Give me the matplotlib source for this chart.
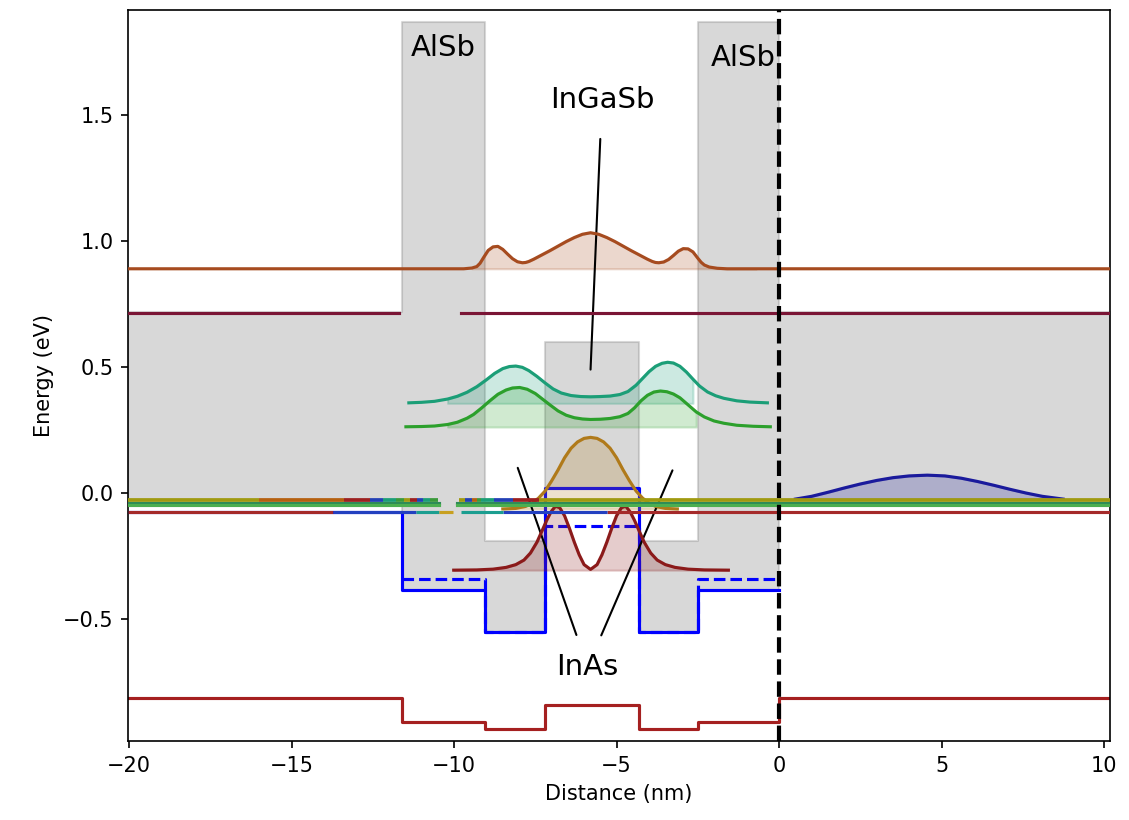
import matplotlib
matplotlib.use('Agg')
import matplotlib.pyplot as plt
import numpy as np

# Layer boundaries (nm): GaSb | AlSb | InAs | InGaSb | InAs | AlSb | GaSb
layer_edges = [-20.03, -11.6, -9.05, -7.2, -4.3, -2.5, 0.0, 10.18]
layer_names = ['GaSb', 'AlSb', 'InAs', 'InGaSb', 'InAs', 'AlSb', 'GaSb']

# Band edges per layer (eV)
cb_edge = [0.72, 1.87, -0.19, 0.60, -0.19, 1.87, 0.72]
vb_edge = [-0.03, -0.385, -0.55, 0.02, -0.55, -0.385, -0.03]
hh_band = [-0.075, -0.385, -0.55, 0.02, -0.55, -0.385]   # left GaSb .. AlSb
lh_band = [-0.34, -0.55, -0.13, -0.55, -0.34]            # AlSb .. AlSb
so_band = [-0.815, -0.908, -0.935, -0.84, -0.935, -0.908, -0.815]

# Electron-like states (energy + |psi|^2)
brown_x = [-20.03, -9.7, -9.45, -9.3, -9.2, -9.1, -8.95, -8.8, -8.65, -8.5, -8.35, -8.2,
           -8.05, -7.9, -7.8, -7.7, -7.55, -7.3, -7.05, -6.8, -6.55, -6.3, -6.05, -5.8,
           -5.55, -5.3, -5.05, -4.8, -4.55, -4.3, -4.05, -3.9, -3.8, -3.7, -3.55, -3.4,
           -3.25, -3.1, -2.95, -2.8, -2.65, -2.5, -2.4, -2.3, -2.15, -1.9, -1.6, -0.7, 10.18]
brown_e = [0.89, 0.890, 0.893, 0.899, 0.912, 0.933, 0.963, 0.977, 0.979, 0.967, 0.948, 0.930,
           0.918, 0.914, 0.915, 0.919, 0.928, 0.945, 0.962, 0.980, 0.998, 1.014, 1.027, 1.033,
           1.027, 1.014, 0.998, 0.980, 0.962, 0.945, 0.928, 0.919, 0.915, 0.914, 0.917, 0.927,
           0.943, 0.960, 0.970, 0.969, 0.957, 0.932, 0.916, 0.905, 0.897, 0.892, 0.890, 0.89, 0.89]
brown_level = 0.89

teal_x = [-11.39, -11.0, -10.6, -10.2, -9.9, -9.6, -9.3, -9.0, -8.75, -8.5, -8.3, -8.1,
          -7.9, -7.7, -7.45, -7.2, -6.95, -6.7, -6.4, -6.1, -5.8, -5.5, -5.2, -4.9, -4.65,
          -4.4, -4.2, -4.0, -3.8, -3.6, -3.43, -3.25, -3.05, -2.85, -2.65, -2.45, -2.2,
          -1.95, -1.7, -1.3, -0.9, -0.36]
teal_e = [0.358, 0.360, 0.364, 0.373, 0.384, 0.400, 0.422, 0.450, 0.475, 0.494, 0.502, 0.504,
          0.499, 0.486, 0.463, 0.437, 0.413, 0.397, 0.387, 0.383, 0.382, 0.383, 0.385, 0.391,
          0.403, 0.428, 0.455, 0.482, 0.503, 0.515, 0.519, 0.516, 0.503, 0.480, 0.452, 0.425,
          0.401, 0.386, 0.376, 0.366, 0.361, 0.358]
teal_level = 0.356

green_x = [-11.48, -11.0, -10.6, -10.2, -9.9, -9.6, -9.4, -9.15, -8.9, -8.65, -8.4, -8.2,
           -7.98, -7.75, -7.5, -7.3, -7.05, -6.8, -6.55, -6.3, -6.05, -5.8, -5.5, -5.2, -4.9,
           -4.65, -4.45, -4.25, -4.05, -3.85, -3.65, -3.45, -3.25, -3.05, -2.8, -2.55, -2.3,
           -2.0, -1.7, -1.3, -0.8, -0.27]
green_e = [0.263, 0.264, 0.266, 0.272, 0.281, 0.297, 0.312, 0.338, 0.366, 0.392, 0.409, 0.417,
           0.419, 0.412, 0.395, 0.375, 0.350, 0.326, 0.309, 0.299, 0.294, 0.292, 0.293, 0.296,
           0.303, 0.316, 0.338, 0.366, 0.388, 0.401, 0.405, 0.402, 0.393, 0.378, 0.350, 0.322,
           0.302, 0.286, 0.277, 0.269, 0.265, 0.263]
green_level = 0.262

# Hole-like states
gold_x = [-8.5, -8.1, -7.8, -7.6, -7.4, -7.2, -7.0, -6.8, -6.6, -6.4, -6.2, -6.0, -5.8,
          -5.6, -5.4, -5.2, -5.0, -4.8, -4.6, -4.4, -4.2, -4.0, -3.8, -3.5, -3.13]
gold_e = [-0.063, -0.061, -0.053, -0.040, -0.020, 0.008, 0.048, 0.092, 0.140, 0.178, 0.203,
          0.217, 0.221, 0.217, 0.203, 0.178, 0.140, 0.092, 0.048, 0.008, -0.020, -0.040,
          -0.053, -0.061, -0.063]
gold_level = -0.063

red_x = [-10.01, -9.3, -8.8, -8.4, -8.1, -7.85, -7.65, -7.45, -7.3, -7.15, -7.02, -6.88,
         -6.75, -6.6, -6.45, -6.3, -6.15, -6.0, -5.8, -5.6, -5.45, -5.3, -5.15, -5.0, -4.85,
         -4.72, -4.58, -4.45, -4.3, -4.15, -3.95, -3.75, -3.5, -3.2, -2.8, -2.3, -1.56]
red_e = [-0.306, -0.305, -0.302, -0.295, -0.284, -0.266, -0.238, -0.195, -0.152, -0.108,
         -0.075, -0.052, -0.058, -0.090, -0.140, -0.195, -0.245, -0.284, -0.303, -0.284,
         -0.245, -0.195, -0.140, -0.090, -0.058, -0.052, -0.075, -0.108, -0.152, -0.195,
         -0.238, -0.266, -0.284, -0.295, -0.302, -0.305, -0.306]
red_level = -0.306

navy_x = [0.5, 1.0, 1.5, 2.0, 2.5, 3.0, 3.5, 4.0, 4.56, 5.1, 5.6, 6.1, 6.6, 7.1, 7.6, 8.1, 8.74]
navy_e = [-0.024, -0.013, 0.003, 0.020, 0.036, 0.050, 0.061, 0.068, 0.071, 0.068, 0.059,
          0.046, 0.031, 0.015, 0.000, -0.013, -0.024]
navy_level = -0.024

# Flat continuum levels: (energy, x_start, x_end)
cont_072 = [(0.715, -20.03, -11.7), (0.715, -9.8, 10.18)]
top_band = {
    '#a09a10': [(-20.03, -16.0), (-7.4, 10.18), (-11.55, -11.35), (-9.85, -9.65)],
    '#b5600f': [(-16.0, -13.4), (-9.45, -9.3)],
    '#9c2020': [(-13.4, -12.6), (-8.2, -7.4), (-11.35, -11.15)],
    '#2340b5': [(-12.6, -12.2), (-8.78, -8.2), (-11.15, -10.95), (-9.65, -9.45)],
    '#1b9e77': [(-12.2, -11.8), (-9.18, -8.78), (-10.95, -10.75)],
    '#3a9a3a': [(-11.8, -11.55), (-10.75, -10.5), (-9.3, -9.18)],
}
top_level = -0.027
mid_levels = [-0.040, -0.046]
low_band = {
    '#a52a2a': [(-20.03, -13.73), (-5.3, 10.18)],
    '#2340c0': [(-13.73, -11.17), (-8.5, -5.3)],
    '#1b9e90': [(-11.17, -10.47), (-9.8, -8.5)],
    '#c8a020': [(-10.47, -10.04)],
}
low_level = -0.075

fig = plt.figure(figsize=(1129 / 150, 820 / 150), dpi=150)
ax = fig.add_axes([128 / 1129, 1 - 741 / 820, 982 / 1129, 731 / 820])

edges_step = np.array(layer_edges)


def step_vals(v):
    return np.append(v, v[-1])


# band gap shading
ax.fill_between(edges_step, step_vals(vb_edge), step_vals(cb_edge), step='post',
                color='gray', alpha=0.3, zorder=1)

ax.step(edges_step[:7], step_vals(hh_band), where='post', color='b', lw=1.5, zorder=2)
ax.step(edges_step[1:7], step_vals(lh_band), where='post', color='b', ls='--', lw=1.5, zorder=2)
ax.step(edges_step, step_vals(so_band), where='post', color='#a52020', lw=1.5, zorder=2)

# bound states
states = [
    (brown_x, brown_e, brown_level, '#a64b1f', (-9.5, -0.7)),
    (teal_x, teal_e, teal_level, '#1b9e77', (-10.4, -2.5)),
    (green_x, green_e, green_level, '#2ca02c', (-10.4, -2.5)),
    (gold_x, gold_e, gold_level, '#b07a1a', (-8.5, -3.13)),
    (red_x, red_e, red_level, '#8b1a1a', (-10.01, -1.56)),
    (navy_x, navy_e, navy_level, '#1a1a9c', (0.5, 8.74)),
]
for xs, es, lvl, c, (f0, f1) in states:
    xs = np.array(xs)
    es = np.array(es)
    m = (xs >= f0) & (xs <= f1)
    ax.fill_between(xs[m], lvl, es[m], color=c, alpha=0.22, zorder=3)
    ax.plot(xs, es, color=c, lw=1.5, zorder=4)

# continuum levels
for e, x0, x1 in cont_072:
    ax.plot([x0, x1], [e, e], color='#7a1535', lw=1.5, zorder=5)
for e, c in zip(mid_levels, ['#2e8b57', '#4caf50']):
    for x0, x1 in [(-20.03, -10.45), (-9.9, 10.18)]:
        ax.plot([x0, x1], [e, e], color=c, lw=1.5, zorder=5)
for c, segs in top_band.items():
    for x0, x1 in segs:
        ax.plot([x0, x1], [top_level, top_level], color=c, lw=1.8, zorder=5,
                solid_capstyle='butt')
for c, segs in low_band.items():
    for x0, x1 in segs:
        ax.plot([x0, x1], [low_level, low_level], color=c, lw=1.5, zorder=5,
                solid_capstyle='butt')

ax.axvline(0, color='k', ls='--', lw=2, zorder=6)

ax.text(-10.32, 1.766, 'AlSb', fontsize=14, ha='center', va='center', zorder=3)
ax.text(-1.1, 1.726, 'AlSb', fontsize=14, ha='center', va='center', zorder=3)
ax.annotate('InGaSb', xy=(-5.8, 0.49), xytext=(-5.45, 1.56), fontsize=14,
            ha='center', va='center',
            arrowprops=dict(arrowstyle='-', color='k', shrinkA=10, shrinkB=0))
for i, (tx, ty) in enumerate([(-8.04, 0.10), (-3.28, 0.09)]):
    ax.annotate('InAs', xy=(tx, ty), xytext=(-5.89, -0.69), fontsize=14,
                ha='center', va='center', color='k' if i == 0 else 'none',
                arrowprops=dict(arrowstyle='-', color='k', shrinkA=7, shrinkB=0))

ax.set_xlim(-20.03, 10.18)
ax.set_ylim(-0.984, 1.917)
ax.set_xlabel('Distance (nm)')
ax.set_ylabel('Energy (eV)')

fig.savefig('out.png', dpi=150)
